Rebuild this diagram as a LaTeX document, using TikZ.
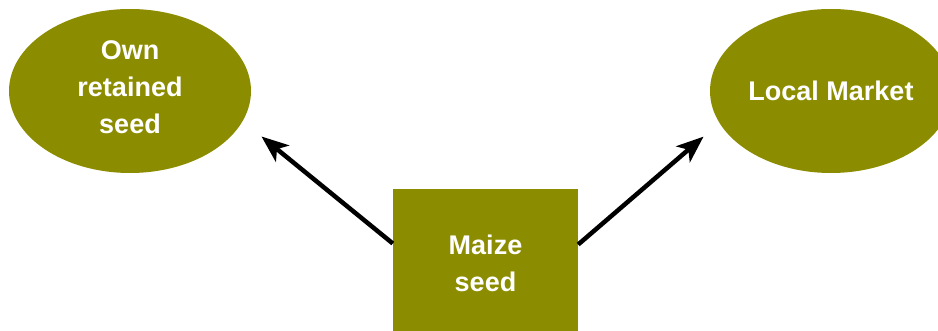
\documentclass[tikz,border=0pt]{standalone}
\usepackage{fontspec}
\setmainfont{Liberation Sans}
\usetikzlibrary{shapes.geometric,arrows.meta}
\definecolor{olive}{RGB}{140,140,0}
\begin{document}
\begin{tikzpicture}[x=1pt,y=1pt,
  blob/.style={ellipse,fill=olive,draw=none,inner sep=0pt,
    minimum width=242pt,minimum height=164pt},
  box/.style={rectangle,fill=olive,draw=none,inner sep=0pt,
    minimum width=185pt,minimum height=149pt},
  lbl/.style={text=white,align=center,inner sep=0pt,
    font=\bfseries\fontsize{27pt}{37pt}\selectfont},
  arr/.style={line width=4.5pt,-{Stealth[length=27pt,width=21pt,inset=7pt]}}]
\useasboundingbox (0,0) rectangle (938,330);

% source and the two destinations
\node[box,lbl] (maize) at (485.5,66.5) {Maize\\seed};
\node[blob] (own) at (130,239) {};
\node[lbl] (ownText) at (130,243) {Own\\retained\\seed};
\node[blob,lbl] (market) at (831,239) {Local Market};

% flows out of the maize seed box
\draw[arr,shorten >=24.2pt] ([yshift=20pt]maize.west) -- (own.-15.4);
\draw[arr,shorten >=20.9pt] ([yshift=19pt]maize.east) -- (market.196.3);
\end{tikzpicture}
\end{document}
